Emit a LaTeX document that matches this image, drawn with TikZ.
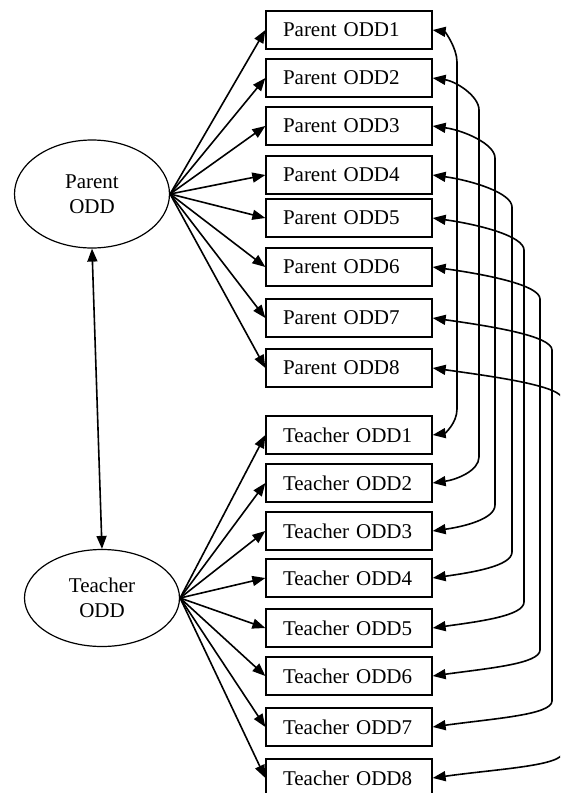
\documentclass[tikz,border=0pt]{standalone}
\usepackage{fontspec}
\setmainfont{Liberation Serif}
\usetikzlibrary{arrows.meta,shapes.geometric,calc}

\begin{document}
\begin{tikzpicture}[x=1pt,y=-1pt,line width=1.6pt,
  every node/.style={font=\fontsize{21}{24.5}\selectfont},
  latent/.style={draw,ellipse,line width=1.2pt,align=center,inner sep=0pt,minimum width=155pt},
  item/.style={draw,line width=1.3pt,minimum height=38pt,text width=132pt,inner xsep=17pt,inner ysep=0pt,align=left},
  >={Triangle[length=13pt,width=10pt]}]
\path[use as bounding box,clip] (0,0) rectangle (560,793);
% latent factors
\node[latent,minimum height=108pt] (pe) at (92,194) {Parent\\ODD};
\node[latent,minimum height=97pt] (te) at (102,598) {Teacher\\ODD};
\draw[<->] (pe.south) -- (te.north);
% indicators
\foreach \k/\py/\ty in {1/30/435,2/78/483,3/126/531,4/175/578,5/218/628,6/267/676,7/318/727,8/368/778}{
  \node[item] (p\k) at (349,\py) {Parent ODD\k};
  \node[item] (t\k) at (349,\ty) {Teacher ODD\k};
  \draw[->] (pe.east) -- (p\k.west);
  \draw[->] (te.east) -- (t\k.west);}
% correlated residuals
\foreach \k/\xv in {1/457,2/479,3/495,4/512,5/524,6/540,7/552,8/563}{
  \coordinate (v\k) at (\xv,0);
  \draw[<->] (p\k.east) to[out=-8,in=90,out distance={(\xv-432)*0.5},in distance=14] ($(p\k.east -| v\k)+(0,32)$)
    -- ($(t\k.east -| v\k)+(0,-26)$) to[out=-90,in=8,out distance=14,in distance={(\xv-432)*0.5}] (t\k.east);}
\end{tikzpicture}
\end{document}
